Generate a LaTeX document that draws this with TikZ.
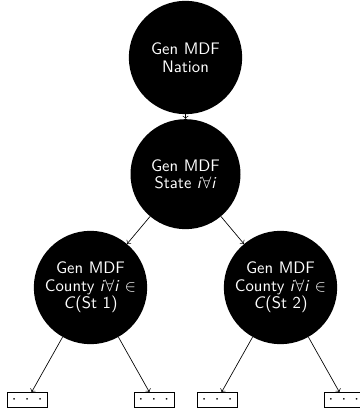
\documentclass[tikz,border=0pt]{standalone}
\usetikzlibrary{arrows,positioning}

\begin{document}
\begin{tikzpicture}[>=to,node distance=68pt,on grid,
  gen/.style={circle,fill=black,text=white,minimum size=68pt,inner sep=0pt,align=center,
    font=\sffamily\fontsize{10}{10.5}\selectfont},
  leaf/.style={draw,rectangle,minimum width=24pt,minimum height=9pt,inner sep=0pt}]
  \useasboundingbox (-111.3pt,34.5pt) rectangle (104.7pt,-210.9pt);
  \node[gen]                (N)                            {Gen MDF\\Nation};
  \node[gen,minimum size=66pt] (S) [below =70pt of N]        {Gen MDF\\State \textit{i}$\forall$\textit{i}};
  \node[gen]                (L) [below left =68pt and 57pt of S]  {Gen MDF\\County \textit{i}$\forall$\textit{i} $\in$\\\textit{C}(St 1)};
  \node[gen]                (R) [below right =68pt and 57pt of S] {Gen MDF\\County \textit{i}$\forall$\textit{i} $\in$\\\textit{C}(St 2)};
  \node[leaf]               (LL) [below left =67.5pt and 38pt of L]  {${\cdot}\hspace{5pt}{\cdot}\hspace{5pt}{\cdot}$};
  \node[leaf]               (LR) [below right =67.5pt and 38pt of L] {${\cdot}\hspace{5pt}{\cdot}\hspace{5pt}{\cdot}$};
  \node[leaf]               (RL) [below left =67.5pt and 38pt of R]  {${\cdot}\hspace{5pt}{\cdot}\hspace{5pt}{\cdot}$};
  \node[leaf]               (RR) [below right =67.5pt and 38pt of R] {${\cdot}\hspace{5pt}{\cdot}\hspace{5pt}{\cdot}$};

\tikzset{myarrow/.style={->}}
\path (N)     edge [myarrow] (S)
      (S)     edge [myarrow] (L)
      (S)     edge [myarrow] (R)
      (L)     edge [myarrow] (LL)
      (L)     edge [myarrow] (LR)
      (R)     edge [myarrow] (RL)
      (R)     edge [myarrow] (RR);
\end{tikzpicture}
\end{document}
